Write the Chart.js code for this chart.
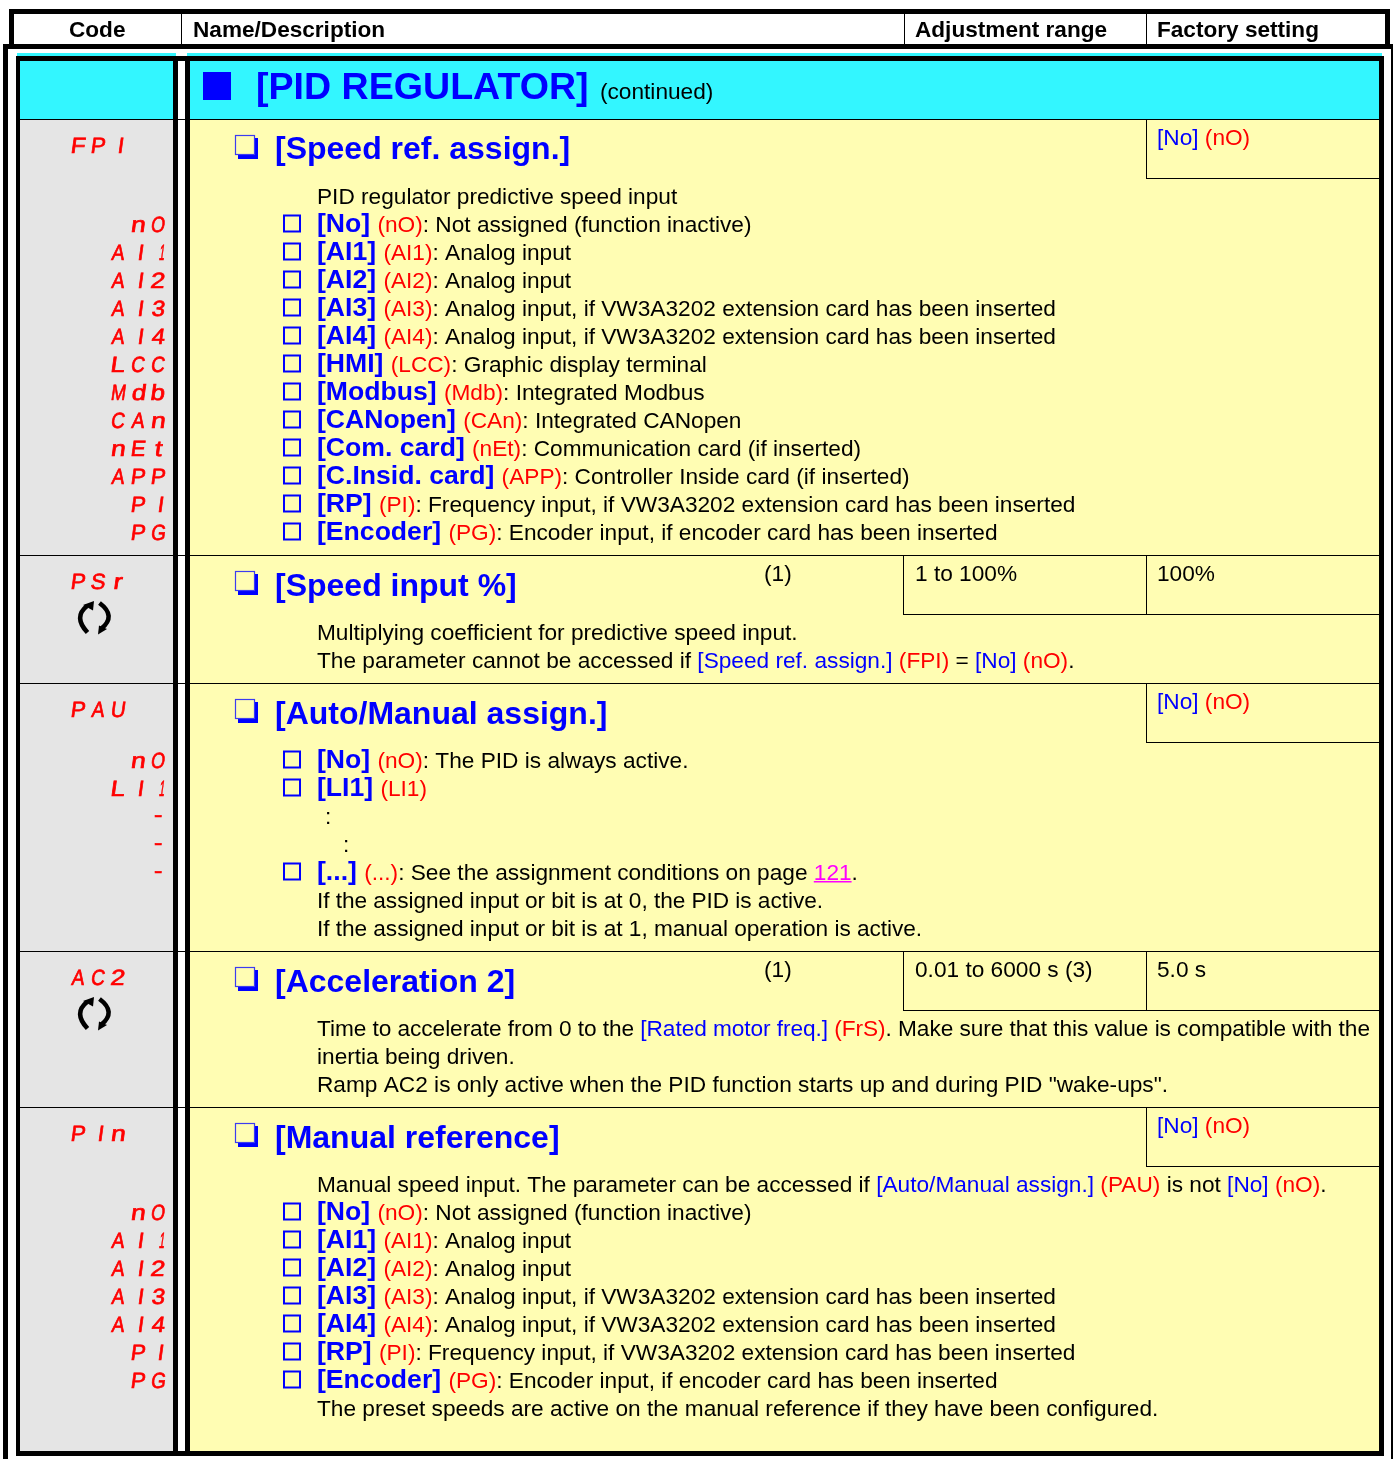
<!DOCTYPE html>
<html>
<head>
<meta charset="utf-8">
<title>PID regulator</title>
<style>
  html, body { margin: 0; background: #fff; }
  canvas { display: block; }
</style>
<script src="https://cdn.jsdelivr.net/npm/chart.js@4"></script>
</head>
<body>
<canvas id="graph-container" width="1393" height="1459"></canvas>
<script>
// column headers
const headerLabels = ["Code", "Name/Description", "Adjustment range", "Factory setting"];

// section titles
const pageTitle = "[PID REGULATOR]";
const pageTitleNote = "(continued)";
const paramTitles = ["[Speed ref. assign.]", "[Speed input %]", "[Auto/Manual assign.]", "[Acceleration 2]", "[Manual reference]"];
const paramCodes = ["FPI", "PSr", "PAU", "AC2", "PIn"];
const adjustRanges = ["", "1 to 100%", "", "0.01 to 6000 s (3)", ""];
const unitNotes = ["", "(1)", "", "(1)", ""];
const factorySettings = ["{b:[No]} {r:(nO)}", "100%", "{b:[No]} {r:(nO)}", "5.0 s", "{b:[No]} {r:(nO)}"];

// body lines: # marks a tick box, {B:} bold blue, {b:} blue, {r:} red, {m:} link
// {x:} moves along, {l:} sets letter spacing for the line
const speedRefLines = [
  "PID regulator predictive speed input",
  "#{B:[No]} {r:(nO)}: Not assigned (function inactive)",
  "#{B:[AI1]} {r:(AI1)}: Analog input",
  "#{B:[AI2]} {r:(AI2)}: Analog input",
  "#{B:[AI3]} {r:(AI3)}: Analog input, if VW3A3202 extension card has been inserted",
  "#{B:[AI4]} {r:(AI4)}: Analog input, if VW3A3202 extension card has been inserted",
  "#{B:[HMI]} {r:(LCC)}: Graphic display terminal",
  "#{B:[Modbus]} {r:(Mdb)}: Integrated Modbus",
  "#{B:[CANopen]} {r:(CAn)}: Integrated CANopen",
  "#{B:[Com. card]} {r:(nEt)}: Communication card (if inserted)",
  "#{B:[C.Insid. card]} {r:(APP)}: Controller Inside card (if inserted)",
  "#{B:[RP]} {r:(PI)}: Frequency input, if VW3A3202 extension card has been inserted",
  "#{B:[Encoder]} {r:(PG)}: Encoder input, if encoder card has been inserted",
];
const speedRefCodes = ["", "nO", "AI1", "AI2", "AI3", "AI4", "LCC", "Mdb", "CAn", "nEt", "APP", "PI", "PG"];

const speedInputLines = [
  "Multiplying coefficient for predictive speed input.",
  "The parameter cannot be accessed if {b:[Speed ref. assign.]} {r:(FPI)} = {b:[No]} {r:(nO)}.",
];
const speedInputCodes = ["", ""];

const autoManualLines = [
  "#{B:[No]} {r:(nO)}: The PID is always active.",
  "#{B:[LI1]} {r:(LI1)}",
  "{x:8}:",
  "{x:26}:",
  "#{B:[...]} {r:(...)}: See the assignment conditions on page {m:121}.",
  "{l:-0.05}If the assigned input or bit is at 0, the PID is active.",
  "{l:-0.05}If the assigned input or bit is at 1, manual operation is active.",
];
const autoManualCodes = ["nO", "LI1", "-", "-", "-", "", ""];

const accelLines = [
  "{l:-0.06}Time to accelerate from 0 to the {b:[Rated motor freq.]} {r:(FrS)}. Make sure that this value is compatible with the",
  "inertia being driven.",
  "Ramp AC2 is only active when the PID function starts up and during PID \"wake-ups\".",
];
const accelCodes = ["", "", ""];

const manualRefLines = [
  "Manual speed input. The parameter can be accessed if {b:[Auto/Manual assign.]} {r:(PAU)} is not {b:[No]} {r:(nO)}.",
  "#{B:[No]} {r:(nO)}: Not assigned (function inactive)",
  "#{B:[AI1]} {r:(AI1)}: Analog input",
  "#{B:[AI2]} {r:(AI2)}: Analog input",
  "#{B:[AI3]} {r:(AI3)}: Analog input, if VW3A3202 extension card has been inserted",
  "#{B:[AI4]} {r:(AI4)}: Analog input, if VW3A3202 extension card has been inserted",
  "#{B:[RP]} {r:(PI)}: Frequency input, if VW3A3202 extension card has been inserted",
  "#{B:[Encoder]} {r:(PG)}: Encoder input, if encoder card has been inserted",
  "The preset speeds are active on the manual reference if they have been configured.",
];
const manualRefCodes = ["", "nO", "AI1", "AI2", "AI3", "AI4", "PI", "PG", ""];

const sectionLines = [speedRefLines, speedInputLines, autoManualLines, accelLines, manualRefLines];
const sectionCodes = [speedRefCodes, speedInputCodes, autoManualCodes, accelCodes, manualRefCodes];

// layout, in page pixels
const rowTops = [119, 555, 683, 951, 1107];
const headingBase = [159, 596, 724, 992, 1148];
const firstLine = [204, 640, 768, 1036, 1192];
const lineStep = 28;
const hasRotateIcon = [false, true, false, true, false];

const BLACK = "#000000";
const CYAN = "#33f6ff";
const GREY = "#e5e5e5";
const YELLOW = "#fffdb3";
const BLUE = "#0000ff";
const RED = "#ff0000";
const MAGENTA = "#ff00ff";
const FONT = '"Liberation Sans", Arial, sans-serif';
const BODY_SIZE = 22.67;

// [x0, x1, y0, y1, colour], painted in this order
const bands = [
  [17, 176, 53, 56, CYAN],
  [187, 1382, 53, 56, CYAN],
  [20, 173, 61, 119, CYAN],
  [190, 1379, 61, 119, CYAN],
  [20, 173, 120, 1451, GREY],
  [190, 1379, 120, 1451, YELLOW],
  // header box
  [9, 1390, 9, 14, BLACK],
  [9, 14, 9, 44, BLACK],
  [1385, 1390, 9, 44, BLACK],
  [3, 1393, 44, 49, BLACK],
  [3, 8, 44, 1459, BLACK],
  [1391, 1393, 44, 1459, BLACK],
  [181, 182, 14, 44, BLACK],
  [904, 905, 14, 44, BLACK],
  [1146, 1147, 14, 44, BLACK],
  // table frame
  [16, 1384, 56, 61, BLACK],
  [16, 20, 56, 1456, BLACK],
  [173, 178, 56, 1456, BLACK],
  [185, 190, 56, 1456, BLACK],
  [1379, 1384, 56, 1456, BLACK],
  [16, 1384, 1451, 1456, BLACK],
];
rowTops.forEach((top, i) => {
  bands.push([20, 1379, top, top + 1, BLACK]);
  // value cells at the top right of each row
  if (adjustRanges[i]) {
    bands.push([903, 904, top, top + 59, BLACK]);
    bands.push([903, 1379, top + 59, top + 60, BLACK]);
  } else {
    bands.push([1146, 1379, top + 59, top + 60, BLACK]);
  }
  bands.push([1146, 1147, top, top + 59, BLACK]);
});

const datasets = bands.map(([x0, x1, y0, y1, colour]) => ({
  data: [{ x: [x0, x1], y: (y0 + y1) / 2 }],
  barThickness: y1 - y0,
  backgroundColor: colour,
  grouped: false,
  inflateAmount: 0,
  borderWidth: 0,
})).reverse();

function styleOf(key) {
  if (key === "B") return { color: BLUE, font: `bold 26.6px ${FONT}` };
  if (key === "b") return { color: BLUE, font: `${BODY_SIZE}px ${FONT}` };
  if (key === "r") return { color: RED, font: `${BODY_SIZE}px ${FONT}` };
  if (key === "m") return { color: MAGENTA, font: `${BODY_SIZE}px ${FONT}`, underline: true };
  return { color: BLACK, font: `${BODY_SIZE}px ${FONT}` };
}

function drawMarkup(ctx, text, x, y) {
  let cursor = x;
  const re = /\{(\w):([^}]*)\}|([^{]+)/g;
  let m;
  ctx.letterSpacing = "0px";
  while ((m = re.exec(text))) {
    if (m[1] === "x") {
      cursor += Number(m[2]);
      continue;
    }
    if (m[1] === "l") {
      ctx.letterSpacing = m[2] + "px";
      continue;
    }
    const part = m[1] ? m[2] : m[3];
    const style = styleOf(m[1]);
    ctx.font = style.font;
    ctx.fillStyle = style.color;
    ctx.fillText(part, cursor, y);
    const w = ctx.measureText(part).width;
    if (style.underline) ctx.fillRect(cursor, y + 1, w, 1.5);
    cursor += w;
    if (m[1] === "B") cursor += 1;
  }
  ctx.letterSpacing = "0px";
}

// squeezes each letter into a display-like slot
function drawSegmentCode(ctx, code, slotStart, y, firstSlot) {
  ctx.font = `22px "Liberation Sans", sans-serif`;
  ctx.fillStyle = RED;
  ctx.strokeStyle = RED;
  ctx.lineWidth = 0.7;
  ctx.textAlign = "left";
  const start = firstSlot ? 0 : 3 - code.length;
  [...code].forEach((ch, i) => {
    const left = slotStart + (start + i) * 20;
    const box = ctx.measureText(ch);
    const ink = box.actualBoundingBoxRight + box.actualBoundingBoxLeft;
    ctx.save();
    if (ch === "I" || ch === "1") {
      ctx.translate(left + 9, y);
      ctx.transform(1, 0, -0.14, 1, 0, 0);
      ctx.scale(ch === "1" ? 5 / ink : 3 / ink, 1);
    } else if (ch === "-") {
      ctx.translate(left + 4, y - 2);
      ctx.scale(8 / ink, 1);
    } else {
      // stretching thin letters too far makes their stems heavy
      const scaleX = Math.min(13 / ink, 1.2);
      ctx.translate(left + 1 + (13 - ink * scaleX) / 2, y);
      ctx.transform(1, 0, -0.14, 1, 0, 0);
      ctx.scale(scaleX, 1);
    }
    ctx.fillText(ch, box.actualBoundingBoxLeft, 0);
    ctx.strokeText(ch, box.actualBoundingBoxLeft, 0);
    ctx.restore();
  });
}

function drawBigBox(ctx, x, y) {
  ctx.fillStyle = BLUE;
  ctx.fillRect(x + 3, y + 3, 20, 21);
  ctx.fillStyle = YELLOW;
  ctx.fillRect(x, y, 20, 20);
  ctx.strokeStyle = "#3c3cf0";
  ctx.lineWidth = 1.2;
  ctx.strokeRect(x + 0.5, y + 0.5, 19, 19);
}

function drawRotateIcon(ctx, cx, cy) {
  ctx.strokeStyle = BLACK;
  ctx.fillStyle = BLACK;
  ctx.lineWidth = 4.6;
  ctx.beginPath();
  ctx.moveTo(cx - 7.5, cy + 14.5);
  ctx.quadraticCurveTo(cx - 22, cy - 1, cx - 8, cy - 12);
  ctx.stroke();
  ctx.beginPath();
  ctx.moveTo(cx + 4.5, cy - 15);
  ctx.quadraticCurveTo(cx + 22, cy - 2, cx + 6, cy + 11);
  ctx.stroke();
  ctx.beginPath();
  ctx.moveTo(cx - 1, cy - 17);
  ctx.lineTo(cx - 2, cy - 7.5);
  ctx.lineTo(cx - 12, cy - 13);
  ctx.closePath();
  ctx.fill();
  ctx.beginPath();
  ctx.moveTo(cx + 3, cy + 16.5);
  ctx.lineTo(cx + 4, cy + 7.5);
  ctx.lineTo(cx + 12, cy + 11);
  ctx.closePath();
  ctx.fill();
}

const tableText = {
  id: "tableText",
  afterDatasetsDraw(chart) {
    const { ctx, scales } = chart;
    const px = (v) => scales.x.getPixelForValue(v);
    const py = (v) => scales.y.getPixelForValue(v);
    ctx.save();
    ctx.textBaseline = "alphabetic";
    ctx.textAlign = "left";

    // column headers
    ctx.font = `bold 22.6px ${FONT}`;
    ctx.fillStyle = BLACK;
    const headerX = [69, 193, 915, 1157];
    headerLabels.forEach((label, i) => ctx.fillText(label, px(headerX[i]), py(37)));

    // page title
    ctx.fillStyle = BLUE;
    ctx.fillRect(px(203), py(72), 28, 28);
    ctx.font = `bold 37.6px ${FONT}`;
    ctx.fillText(pageTitle, px(256), py(99));
    ctx.font = `${BODY_SIZE}px ${FONT}`;
    ctx.fillStyle = BLACK;
    ctx.fillText(pageTitleNote, px(600), py(99));

    rowTops.forEach((top, i) => {
      // parameter heading
      drawBigBox(ctx, px(235), py(top + 16));
      ctx.font = `bold 32px ${FONT}`;
      ctx.fillStyle = BLUE;
      ctx.fillText(paramTitles[i], px(275), py(headingBase[i]));
      drawSegmentCode(ctx, paramCodes[i], 70, py(top + 34), true);
      if (hasRotateIcon[i]) drawRotateIcon(ctx, px(95), py(top + 63));

      // value cells
      if (unitNotes[i]) drawMarkup(ctx, unitNotes[i], px(764), py(top + 26));
      if (adjustRanges[i]) drawMarkup(ctx, adjustRanges[i], px(915), py(top + 26));
      drawMarkup(ctx, factorySettings[i], px(1157), py(top + 26));

      // body lines with their codes
      sectionLines[i].forEach((line, j) => {
        const y = firstLine[i] + j * lineStep;
        let text = line;
        if (text[0] === "#") {
          text = text.slice(1);
          ctx.strokeStyle = BLUE;
          ctx.lineWidth = 2;
          ctx.strokeRect(px(284), py(y - 16.5), 16, 16);
        }
        drawMarkup(ctx, text, px(317), py(y));
        if (sectionCodes[i][j]) drawSegmentCode(ctx, sectionCodes[i][j], 110, py(y), false);
      });
    });
    ctx.restore();
  },
};

const ctx = document.getElementById("graph-container").getContext("2d");
const chart = new Chart(ctx, {
  type: "bar",
  data: { datasets },
  plugins: [tableText],
  options: {
    indexAxis: "y",
    responsive: false,
    animation: false,
    layout: { padding: 0 },
    plugins: { legend: { display: false }, tooltip: { enabled: false } },
    scales: {
      x: { type: "linear", min: 0, max: 1393, display: false, offset: false },
      y: { type: "linear", min: 0, max: 1459, reverse: true, display: false, offset: false },
    },
  },
});
</script>
</body>
</html>
